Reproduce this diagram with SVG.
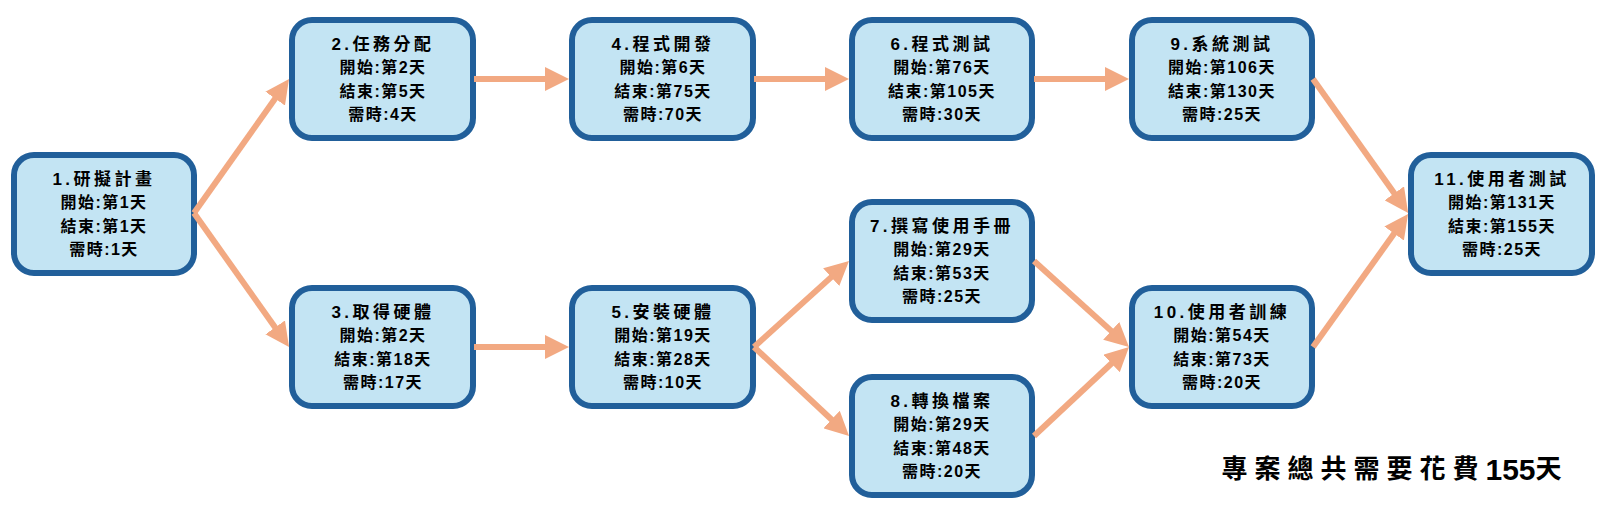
<svg xmlns="http://www.w3.org/2000/svg" width="1607" height="516" viewBox="0 0 1607 516">
<style>
.box{fill:#C3E4F3;stroke:#215F9A;stroke-width:6}
.t{font-family:"Liberation Sans","Noto Sans CJK TC",sans-serif;font-weight:bold;font-size:16px;fill:#000;text-anchor:middle;dominant-baseline:central;letter-spacing:1.5px}
.h{letter-spacing:3.5px;font-size:17px}
.c{fill:none;stroke:#F2A982;stroke-width:6;marker-end:url(#ah)}
.total{font-family:"Liberation Sans","Noto Sans CJK TC",sans-serif;font-weight:bold;font-size:26px;fill:#000;text-anchor:middle;dominant-baseline:central;letter-spacing:7px}
</style>
<defs>
<marker id="ah" markerUnits="userSpaceOnUse" markerWidth="24" markerHeight="24" viewBox="0 0 24 24" refX="12" refY="12" orient="auto">
<path d="M0,0 L24,12 L0,24 z" fill="#F2A982"/>
</marker>
</defs>
<rect width="1607" height="516" fill="#fff"/>
<g id="n1"><rect class="box" x="14" y="155" width="180" height="118" rx="20"/>
<text class="t h" x="104" y="179">1.研擬計畫</text><text class="t" x="104" y="202">開始:第1天</text><text class="t" x="104" y="226">結束:第1天</text><text class="t" x="104" y="249">需時:1天</text></g>
<g id="n2"><rect class="box" x="292" y="20" width="181" height="118" rx="20"/>
<text class="t h" x="383" y="44">2.任務分配</text><text class="t" x="383" y="67">開始:第2天</text><text class="t" x="383" y="91">結束:第5天</text><text class="t" x="383" y="114">需時:4天</text></g>
<g id="n3"><rect class="box" x="292" y="288" width="181" height="118" rx="20"/>
<text class="t h" x="383" y="312">3.取得硬體</text><text class="t" x="383" y="335">開始:第2天</text><text class="t" x="383" y="359">結束:第18天</text><text class="t" x="383" y="382">需時:17天</text></g>
<g id="n4"><rect class="box" x="572" y="20" width="181" height="118" rx="20"/>
<text class="t h" x="663" y="44">4.程式開發</text><text class="t" x="663" y="67">開始:第6天</text><text class="t" x="663" y="91">結束:第75天</text><text class="t" x="663" y="114">需時:70天</text></g>
<g id="n5"><rect class="box" x="572" y="288" width="181" height="118" rx="20"/>
<text class="t h" x="663" y="312">5.安裝硬體</text><text class="t" x="663" y="335">開始:第19天</text><text class="t" x="663" y="359">結束:第28天</text><text class="t" x="663" y="382">需時:10天</text></g>
<g id="n6"><rect class="box" x="852" y="20" width="180" height="118" rx="20"/>
<text class="t h" x="942" y="44">6.程式測試</text><text class="t" x="942" y="67">開始:第76天</text><text class="t" x="942" y="91">結束:第105天</text><text class="t" x="942" y="114">需時:30天</text></g>
<g id="n7"><rect class="box" x="852" y="202" width="180" height="118" rx="20"/>
<text class="t h" x="942" y="226">7.撰寫使用手冊</text><text class="t" x="942" y="249">開始:第29天</text><text class="t" x="942" y="273">結束:第53天</text><text class="t" x="942" y="296">需時:25天</text></g>
<g id="n8"><rect class="box" x="852" y="377" width="180" height="118" rx="20"/>
<text class="t h" x="942" y="401">8.轉換檔案</text><text class="t" x="942" y="424">開始:第29天</text><text class="t" x="942" y="448">結束:第48天</text><text class="t" x="942" y="471">需時:20天</text></g>
<g id="n9"><rect class="box" x="1132" y="20" width="180" height="118" rx="20"/>
<text class="t h" x="1222" y="44">9.系統測試</text><text class="t" x="1222" y="67">開始:第106天</text><text class="t" x="1222" y="91">結束:第130天</text><text class="t" x="1222" y="114">需時:25天</text></g>
<g id="n10"><rect class="box" x="1132" y="288" width="180" height="118" rx="20"/>
<text class="t h" x="1222" y="312">10.使用者訓練</text><text class="t" x="1222" y="335">開始:第54天</text><text class="t" x="1222" y="359">結束:第73天</text><text class="t" x="1222" y="382">需時:20天</text></g>
<g id="n11"><rect class="box" x="1411" y="155" width="181" height="118" rx="20"/>
<text class="t h" x="1502" y="179">11.使用者測試</text><text class="t" x="1502" y="202">開始:第131天</text><text class="t" x="1502" y="226">結束:第155天</text><text class="t" x="1502" y="249">需時:25天</text></g>
<g id="connectors">
<line class="c" x1="194" y1="213" x2="282.1" y2="88.8"/>
<line class="c" x1="194" y1="213" x2="282.1" y2="337.2"/>
<line class="c" x1="474" y1="79" x2="557" y2="79"/>
<line class="c" x1="474" y1="347" x2="557" y2="347"/>
<line class="c" x1="754" y1="79" x2="837" y2="79"/>
<line class="c" x1="1034" y1="79" x2="1117" y2="79"/>
<line class="c" x1="754" y1="347" x2="840.1" y2="269.1"/>
<line class="c" x1="754" y1="347" x2="840.3" y2="427.7"/>
<line class="c" x1="1034" y1="261" x2="1120.1" y2="338.9"/>
<line class="c" x1="1034" y1="436" x2="1120.3" y2="355.3"/>
<line class="c" x1="1313" y1="79" x2="1401.2" y2="203.1"/>
<line class="c" x1="1313" y1="347" x2="1401.1" y2="223.8"/>
</g>
<text class="total" x="1395" y="469">專案總共需要花費<tspan letter-spacing="0" font-size="30">155</tspan>天</text>
</svg>
